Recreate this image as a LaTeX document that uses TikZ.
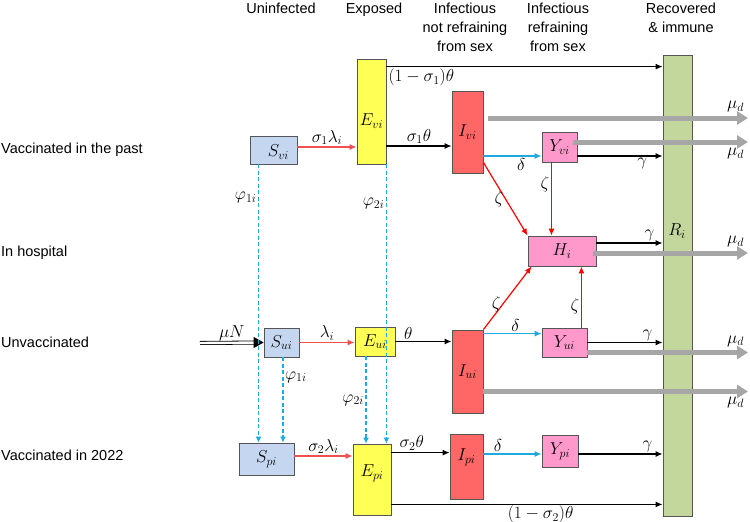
\documentclass[tikz,border=0pt]{standalone}
\usepackage{fontspec}
\setmainfont{Liberation Sans}
\usetikzlibrary{arrows.meta}
\definecolor{boxline}{RGB}{85,85,85}
\definecolor{sblue}{RGB}{197,214,240}
\definecolor{eyellow}{RGB}{255,255,85}
\definecolor{ired}{RGB}{255,102,102}
\definecolor{ypink}{RGB}{255,153,204}
\definecolor{rgreen}{RGB}{195,214,155}
\definecolor{infred}{RGB}{240,80,80}
\definecolor{arrcyan}{RGB}{30,170,225}
\definecolor{dgrey}{RGB}{166,166,166}
\begin{document}
\begin{tikzpicture}[x=1pt,y=-1pt,font=\fontsize{14.5}{19}\selectfont,
  box/.style={draw=boxline,line width=0.8pt,inner sep=0pt,font=\fontsize{18}{20}\selectfont},
  sbox/.style={box,fill=sblue},
  ebox/.style={box,fill=eyellow},
  ibox/.style={box,fill=ired},
  ybox/.style={box,fill=ypink},
  flow/.style={line width=1.2pt,-{Latex[length=7pt,width=6pt]}},
  blk/.style={flow,black},
  inf/.style={flow,infred},
  hosp/.style={flow,red},
  refr/.style={flow,arrcyan},
  vacc/.style={arrcyan,line width=1.2pt,dash pattern=on 4pt off 2.5pt,-{Latex[length=6pt,width=6pt]}},
  death/.style={dgrey,line width=5pt,-{Triangle[length=11pt,width=13pt]}},
  lab/.style={inner sep=1.5pt,text=black,font=\fontsize{18}{20}\selectfont}]
\useasboundingbox (0,0) rectangle (750,522);
\node[anchor=north,align=center,inner sep=0pt] (hunin) at (281,3) {Uninfected};
\node[anchor=north,align=center,inner sep=0pt] (hexp) at (374,3) {Exposed};
\node[anchor=north,align=center,inner sep=0pt] (hinf) at (465,3) {Infectious\\not refraining\\from sex};
\node[anchor=north,align=center,inner sep=0pt] (hrefr) at (558,3) {Infectious\\refraining\\from sex};
\node[anchor=north,align=center,inner sep=0pt] (hrec) at (681,3) {Recovered\\\& immune};
\node[anchor=west,inner sep=0pt] (rowvp) at (1,150) {Vaccinated in the past};
\node[anchor=west,inner sep=0pt] (rowh) at (1,253) {In hospital};
\node[anchor=west,inner sep=0pt] (rowu) at (1,342) {Unvaccinated};
\node[anchor=west,inner sep=0pt] (rowp) at (1,455) {Vaccinated in 2022};
\node[box,fill=rgreen,minimum width=29pt,minimum height=461pt] (Ri) at (677.5,285.5) {};
\node[lab] (Rlab) at (677,231) {$R_i$};
\node[sbox,minimum width=47pt,minimum height=28pt] (Svi) at (273.5,150) {};
\node[lab] (Svilab) at (278.5,152) {$S_{vi}$};
\node[ebox,minimum width=29pt,minimum height=105pt] (Evi) at (371.5,111.5) {};
\node[lab] (Evilab) at (371.5,121) {$E_{vi}$};
\node[ibox,minimum width=31pt,minimum height=82pt] (Ivi) at (467.5,132) {$I_{vi}$};
\node[ybox,minimum width=35pt,minimum height=30pt] (Yvi) at (559.5,147) {$Y_{vi}$};
\node[ybox,minimum width=68pt,minimum height=30pt] (Hi) at (562,251) {$H_i$};
\node[sbox,minimum width=35pt,minimum height=29pt] (Sui) at (281.5,342.5) {$S_{ui}$};
\node[ebox,minimum width=40pt,minimum height=29pt] (Eui) at (375,341.5) {$E_{ui}$};
\node[ibox,minimum width=31pt,minimum height=83pt] (Iui) at (467.5,371.5) {$I_{ui}$};
\node[ybox,minimum width=45pt,minimum height=29pt] (Yui) at (564.5,342.5) {$Y_{ui}$};
\node[sbox,minimum width=55pt,minimum height=32pt] (Spi) at (266.5,459) {$S_{pi}$};
\node[ebox,minimum width=38pt,minimum height=71pt] (Epi) at (372,479.5) {};
\node[lab] (Epilab) at (372,473) {$E_{pi}$};
\node[ibox,minimum width=33pt,minimum height=65pt] (Ipi) at (466.5,466.5) {};
\node[lab] (Ipilab) at (466.5,457) {$I_{pi}$};
\node[ybox,minimum width=36pt,minimum height=32pt] (Ypi) at (560,451) {$Y_{pi}$};
\coordinate (muN) at (200,343);
\coordinate (rim) at (748,0);
\draw[blk] ([yshift=-8pt]Evi.north east) -- ([yshift=-8pt]Evi.north east -| Ri.west) node[lab,pos=0,below right] {$(1-\sigma_1)\theta$};
\draw[inf] ([yshift=3pt]Svi.east) -- ([yshift=3pt]Svi.east -| Evi.west) node[lab,midway,above] {$\sigma_1\lambda_i$};
\draw[blk] ([yshift=-14pt]Ivi.west -| Evi.east) -- ([yshift=-14pt]Ivi.west) node[lab,midway,above] {$\sigma_1\theta$};
\draw[refr] ([yshift=-9pt]Yvi.west -| Ivi.east) -- ([yshift=-9pt]Yvi.west) node[lab,pos=0.65,below] {$\delta$};
\draw[blk] ([yshift=-9pt]Yvi.east) -- ([yshift=-9pt]Yvi.east -| Ri.west) node[lab,pos=0.76,below] {$\gamma$};
\draw[hosp] ([yshift=11pt]Ivi.south east) -- (Hi.north west) node[lab,midway,left] {$\zeta$};
\draw[hosp] ([xshift=-8pt]Yvi.south) -- ([xshift=-8pt]Yvi.south |- Hi.north) node[lab,pos=0.3,left] {$\zeta$};
\draw[blk] ([yshift=8pt]Hi.east) -- ([yshift=8pt]Hi.east -| Ri.west) node[lab,pos=0.8,above] {$\gamma$};
\draw[double,double distance=2.4pt,line width=0.8pt,shorten >=8pt] (muN) -- (Sui.west) node[lab,midway,above] {$\mu N$};
\draw[line width=0.8pt,-{Triangle[length=10pt,width=11pt]}] ([xshift=-10pt]Sui.west) -- (Sui.west);
\draw[inf] (Sui.east) -- (Sui.east -| Eui.west) node[lab,midway,above] {$\lambda_i$};
\draw[blk] (Eui.east) -- (Eui.east -| Iui.west) node[lab,pos=0.23,above] {$\theta$};
\draw[hosp] (Iui.north east) -- ([xshift=4pt]Hi.south west) node[lab,pos=0.4,left] {$\zeta$};
\draw[refr] ([yshift=-4pt]Iui.north east) -- ([yshift=-4pt]Iui.north east -| Yui.west) node[lab,pos=0.55,above] {$\delta$};
\draw[hosp] ([xshift=-6pt]Yui.north east) -- ([xshift=-6pt]Yui.north east |- Hi.south) node[lab,pos=0.35,left] {$\zeta$};
\draw[blk] (Yui.east) -- (Yui.east -| Ri.west) node[lab,pos=0.8,above] {$\gamma$};
\draw[inf] ([yshift=3pt]Spi.east) -- ([yshift=3pt]Spi.east -| Epi.west) node[lab,midway,above] {$\sigma_2\lambda_i$};
\draw[blk] ([yshift=-9pt]Epi.north east) -- ([yshift=-9pt]Epi.north east -| Ipi.west) node[lab,pos=0.35,above] {$\sigma_2\theta$};
\draw[refr] ([yshift=-3pt]Ypi.west -| Ipi.east) -- ([yshift=-3pt]Ypi.west) node[lab,pos=0.25,above] {$\delta$};
\draw[blk] ([yshift=-3pt]Ypi.east) -- ([yshift=-3pt]Ypi.east -| Ri.west) node[lab,pos=0.82,above] {$\gamma$};
\draw[blk] ([yshift=11pt]Epi.south east) -- ([yshift=11pt]Epi.south east -| Ri.west) node[lab,pos=0.55,below,inner sep=0pt,yshift=-0.5pt] {$(1-\sigma_2)\theta$};
\draw[vacc] ([xshift=-15pt]Svi.south) -- ([xshift=-15pt]Svi.south |- Spi.north) node[lab,pos=0.12,left] {$\varphi_{1i}$};
\draw[vacc] ([xshift=1.5pt]Sui.south) -- ([xshift=1.5pt]Sui.south |- Spi.north) node[lab,pos=0.23,right] {$\varphi_{1i}$};
\draw[vacc] (Evi.south east) -- (Evi.south east |- Epi.north) node[lab,pos=0.14,left] {$\varphi_{2i}$};
\draw[vacc] ([xshift=-9pt]Eui.south) -- ([xshift=-9pt]Eui.south |- Epi.north) node[lab,pos=0.5,left] {$\varphi_{2i}$};
\draw[death] ([xshift=5pt,yshift=14pt]Ivi.east) -- ([yshift=14pt]Ivi.east -| rim) node[lab,pos=1,anchor=south east,yshift=2pt] {$\mu_d$};
\draw[death] ([xshift=-4pt,yshift=5pt]Yvi.east) -- ([yshift=5pt]Yvi.east -| rim) node[lab,pos=1,anchor=north east,yshift=-2pt] {$\mu_d$};
\draw[death] ([xshift=-3pt,yshift=-2pt]Hi.east) -- ([yshift=-2pt]Hi.east -| rim) node[lab,pos=1,anchor=south east,yshift=2pt] {$\mu_d$};
\draw[death] ([yshift=-10pt]Yui.east) -- ([yshift=-10pt]Yui.east -| rim) node[lab,pos=1,anchor=south east,yshift=2pt] {$\mu_d$};
\draw[death] ([yshift=-20pt]Iui.east) -- ([yshift=-20pt]Iui.east -| rim) node[lab,pos=1,anchor=north east,yshift=-2pt] {$\mu_d$};
\end{tikzpicture}
\end{document}
